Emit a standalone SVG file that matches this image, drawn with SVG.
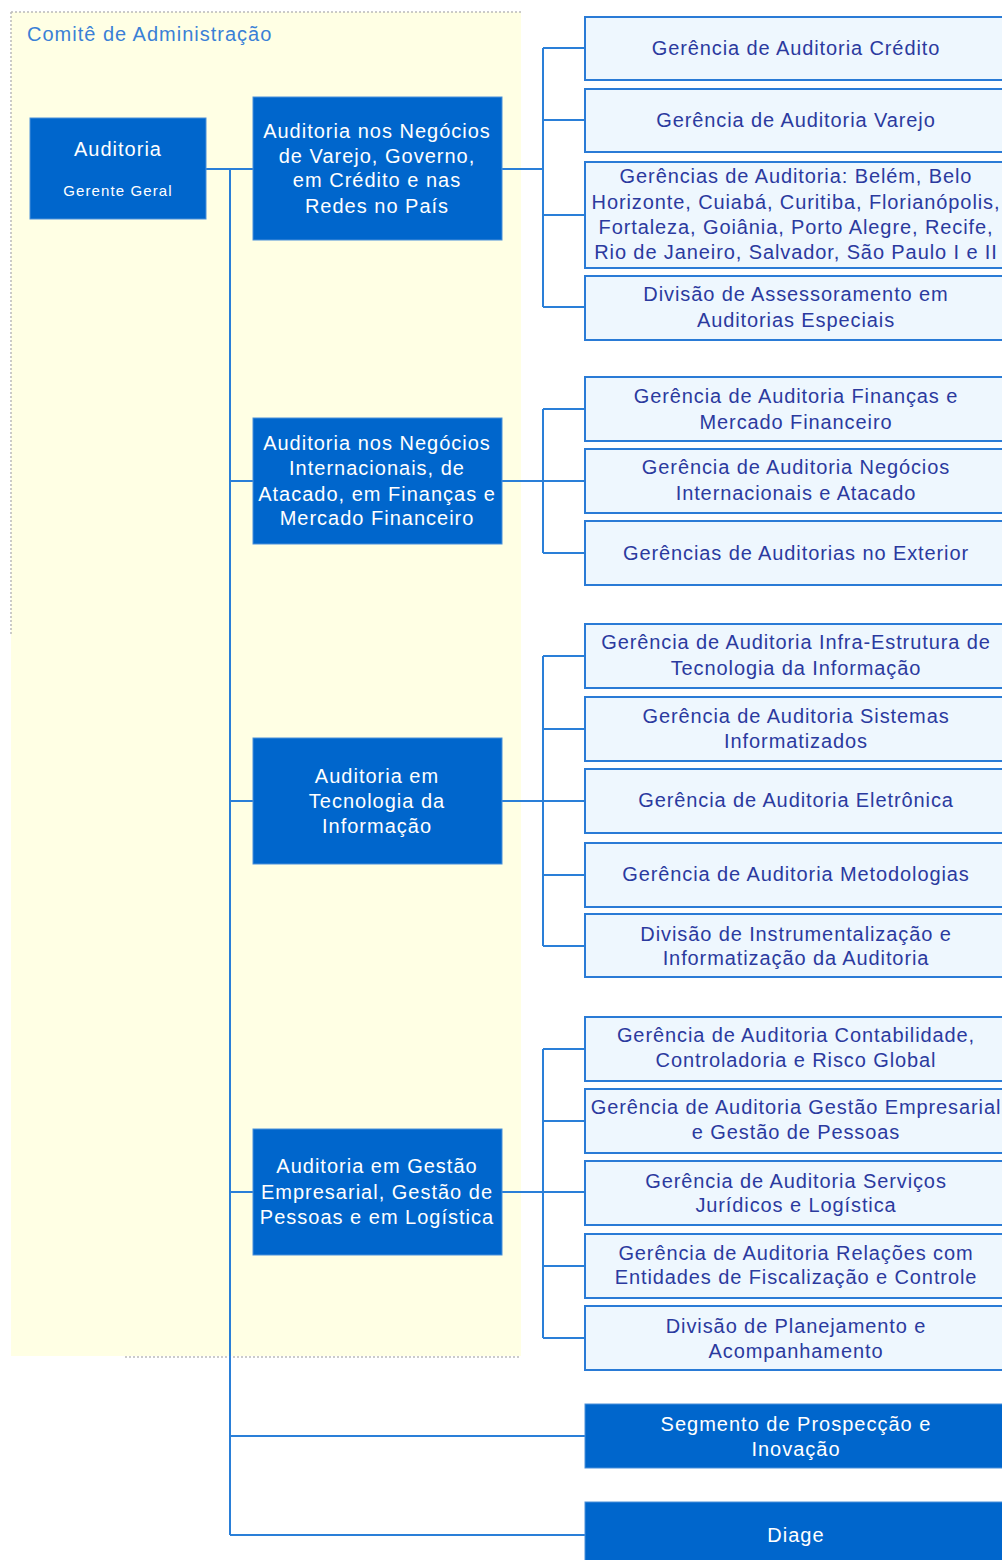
<svg xmlns="http://www.w3.org/2000/svg" width="1002" height="1560" viewBox="0 0 1002 1560">
<style>
.dark{fill:#0066CC;stroke:#4A90DA;stroke-width:1}
.light{fill:#EEF7FE;stroke:#2A7BD6;stroke-width:2}
.wt{font-family:"Liberation Sans",Arial,sans-serif;font-size:20px;fill:#FFFFFF;text-anchor:middle;letter-spacing:1px}
.bt{font-family:"Liberation Sans",Arial,sans-serif;font-size:20px;fill:#2B3A9E;text-anchor:middle;letter-spacing:0.9px}
.conn{fill:none;stroke:#2A7FD8;stroke-width:2}
</style>
<g id="comite">
<rect x="11" y="12" width="510" height="1344" fill="#FFFFE4"/>
<path d="M11 12 H521 M11 12 V635 M125 1357 H521" fill="none" stroke="#BBBBBB" stroke-width="1.5" stroke-dasharray="2 2"/>
<text x="27" y="41" font-family="Liberation Sans,Arial,sans-serif" font-size="20" fill="#3A80D6" letter-spacing="1">Comitê de Administração</text>
</g>
<g id="connectors">
<path class="conn" d="M206 169 H253 M230 169 V1535 M230 481 H253 M230 801 H253 M230 1192 H253 M230 1436 H585 M230 1535 H585"/>
<path class="conn" d="M502 169 H543 M543 48 V307 M543 48 H585 M543 120 H585 M543 215 H585 M543 307 H585"/>
<path class="conn" d="M502 481 H585 M543 409 V553 M543 409 H585 M543 553 H585"/>
<path class="conn" d="M502 801 H585 M543 656 V946 M543 656 H585 M543 729 H585 M543 875 H585 M543 946 H585"/>
<path class="conn" d="M502 1192 H585 M543 1049 V1338 M543 1049 H585 M543 1121 H585 M543 1266 H585 M543 1338 H585"/>
</g>
<g id="auditoria">
<rect class="dark" x="30" y="118" width="176" height="101"/>
<text class="wt" x="118" y="156">Auditoria</text>
<text class="wt" x="118" y="196" style="font-size:15px;letter-spacing:1.1px">Gerente Geral</text>
</g>
<g id="varejo">
<rect class="dark" x="253" y="97" width="249" height="143"/>
<text class="wt" x="377" y="138">Auditoria nos Negócios</text>
<text class="wt" x="377" y="163">de Varejo, Governo,</text>
<text class="wt" x="377" y="187">em Crédito e nas</text>
<text class="wt" x="377" y="213">Redes no País</text>
</g>
<g id="internacionais">
<rect class="dark" x="253" y="418" width="249" height="126"/>
<text class="wt" x="377" y="450">Auditoria nos Negócios</text>
<text class="wt" x="377" y="475">Internacionais, de</text>
<text class="wt" x="377" y="501">Atacado, em Finanças e</text>
<text class="wt" x="377" y="525">Mercado Financeiro</text>
</g>
<g id="tecnologia">
<rect class="dark" x="253" y="738" width="249" height="126"/>
<text class="wt" x="377" y="783">Auditoria em</text>
<text class="wt" x="377" y="808">Tecnologia da</text>
<text class="wt" x="377" y="833">Informação</text>
</g>
<g id="gestao">
<rect class="dark" x="253" y="1129" width="249" height="126"/>
<text class="wt" x="377" y="1173">Auditoria em Gestão</text>
<text class="wt" x="377" y="1199">Empresarial, Gestão de</text>
<text class="wt" x="377" y="1224">Pessoas e em Logística</text>
</g>
<g id="credito">
<rect class="light" x="585" y="17" width="423" height="63"/>
<text class="bt" x="796" y="55">Gerência de Auditoria Crédito</text>
</g>
<g id="g-varejo">
<rect class="light" x="585" y="89" width="423" height="63"/>
<text class="bt" x="796" y="127">Gerência de Auditoria Varejo</text>
</g>
<g id="gerencias">
<rect class="light" x="585" y="162" width="423" height="106"/>
<text class="bt" x="796" y="183">Gerências de Auditoria: Belém, Belo</text>
<text class="bt" x="796" y="209">Horizonte, Cuiabá, Curitiba, Florianópolis,</text>
<text class="bt" x="796" y="234">Fortaleza, Goiânia, Porto Alegre, Recife,</text>
<text class="bt" x="796" y="259">Rio de Janeiro, Salvador, São Paulo I e II</text>
</g>
<g id="assessoramento">
<rect class="light" x="585" y="276" width="423" height="64"/>
<text class="bt" x="796" y="301">Divisão de Assessoramento em</text>
<text class="bt" x="796" y="327">Auditorias Especiais</text>
</g>
<g id="financas">
<rect class="light" x="585" y="377" width="423" height="64"/>
<text class="bt" x="796" y="403">Gerência de Auditoria Finanças e</text>
<text class="bt" x="796" y="429">Mercado Financeiro</text>
</g>
<g id="negocios">
<rect class="light" x="585" y="449" width="423" height="64"/>
<text class="bt" x="796" y="474">Gerência de Auditoria Negócios</text>
<text class="bt" x="796" y="500">Internacionais e Atacado</text>
</g>
<g id="exterior">
<rect class="light" x="585" y="521" width="423" height="64"/>
<text class="bt" x="796" y="560">Gerências de Auditorias no Exterior</text>
</g>
<g id="infra">
<rect class="light" x="585" y="624" width="423" height="64"/>
<text class="bt" x="796" y="649">Gerência de Auditoria Infra-Estrutura de</text>
<text class="bt" x="796" y="675">Tecnologia da Informação</text>
</g>
<g id="sistemas">
<rect class="light" x="585" y="697" width="423" height="64"/>
<text class="bt" x="796" y="723">Gerência de Auditoria Sistemas</text>
<text class="bt" x="796" y="748">Informatizados</text>
</g>
<g id="eletronica">
<rect class="light" x="585" y="769" width="423" height="64"/>
<text class="bt" x="796" y="807">Gerência de Auditoria Eletrônica</text>
</g>
<g id="metodologias">
<rect class="light" x="585" y="843" width="423" height="64"/>
<text class="bt" x="796" y="881">Gerência de Auditoria Metodologias</text>
</g>
<g id="instrumentalizacao">
<rect class="light" x="585" y="914" width="423" height="63"/>
<text class="bt" x="796" y="941">Divisão de Instrumentalização e</text>
<text class="bt" x="796" y="965">Informatização da Auditoria</text>
</g>
<g id="contabilidade">
<rect class="light" x="585" y="1017" width="423" height="64"/>
<text class="bt" x="796" y="1042">Gerência de Auditoria Contabilidade,</text>
<text class="bt" x="796" y="1067">Controladoria e Risco Global</text>
</g>
<g id="gestao-empresarial">
<rect class="light" x="585" y="1089" width="423" height="64"/>
<text class="bt" x="796" y="1114">Gerência de Auditoria Gestão Empresarial</text>
<text class="bt" x="796" y="1139">e Gestão de Pessoas</text>
</g>
<g id="juridicos">
<rect class="light" x="585" y="1161" width="423" height="64"/>
<text class="bt" x="796" y="1188">Gerência de Auditoria Serviços</text>
<text class="bt" x="796" y="1212">Jurídicos e Logística</text>
</g>
<g id="relacoes">
<rect class="light" x="585" y="1234" width="423" height="64"/>
<text class="bt" x="796" y="1260">Gerência de Auditoria Relações com</text>
<text class="bt" x="796" y="1284">Entidades de Fiscalização e Controle</text>
</g>
<g id="planejamento">
<rect class="light" x="585" y="1306" width="423" height="64"/>
<text class="bt" x="796" y="1333">Divisão de Planejamento e</text>
<text class="bt" x="796" y="1358">Acompanhamento</text>
</g>
<g id="segmento">
<rect class="dark" x="585" y="1404" width="423" height="64"/>
<text class="wt" x="796" y="1431">Segmento de Prospecção e</text>
<text class="wt" x="796" y="1456">Inovação</text>
</g>
<g id="diage">
<rect class="dark" x="585" y="1502" width="423" height="66"/>
<text class="wt" x="796" y="1542">Diage</text>
</g>
</svg>
